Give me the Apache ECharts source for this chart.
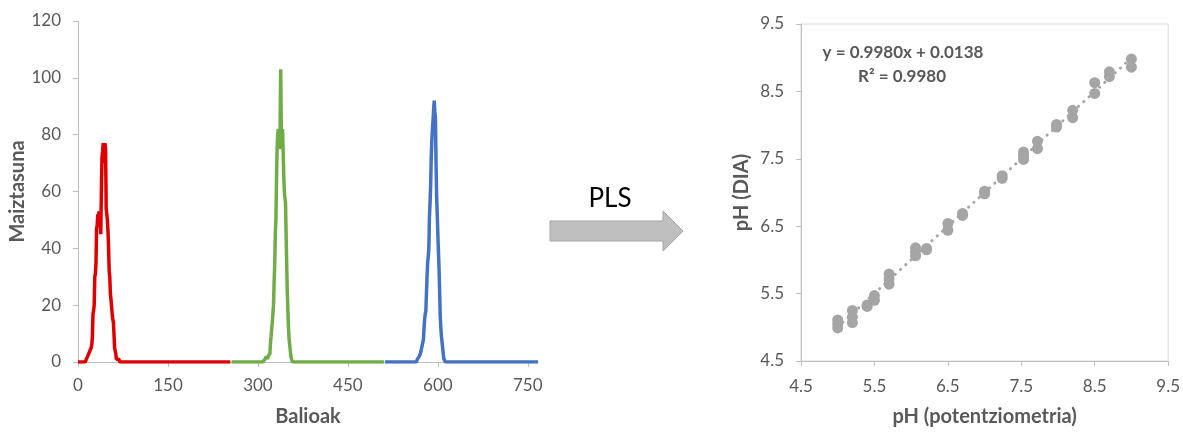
<!DOCTYPE html>
<html>
<head>
<meta charset="utf-8">
<script src="https://cdn.jsdelivr.net/npm/echarts@6/dist/echarts.min.js"></script>
<style>
  html, body { margin: 0; padding: 0; background: #fff; }
  #main { width: 1183px; height: 432px; }
</style>
</head>
<body>
<div id="main"></div>
<script>
// histogram: every channel is 256 bins, only the peak is non-zero
var binsPerChannel = 256;
var redStart = 14;
var redCounts = [1, 1, 2, 2, 3, 3, 4, 4, 5, 6, 9, 17, 18, 20, 30, 31, 35, 47, 48, 52, 51, 53, 49, 52, 45, 60,
  72, 74, 77, 76, 70, 77, 75, 54, 52, 50, 46, 40, 32, 30, 24, 22, 22, 17, 15, 14, 10, 5, 4, 3, 1, 1, 1, 1, 1, 1, 0];
var greenStart = 312;
var greenCounts = [1, 1, 2, 2, 1, 2, 2, 2, 3, 7, 9, 12, 14, 14, 20, 28, 34, 45, 50, 64, 75, 80, 82, 82, 75, 82,
  103, 82, 75, 82, 75, 66, 60, 58, 56, 45, 34, 24, 18, 12, 8, 6, 4, 2, 1, 1, 0];
var blueStart = 566;
var blueCounts = [1, 1, 1, 2, 2, 3, 3, 5, 6, 7, 8, 12, 15, 17, 18, 24, 30, 35, 37, 40, 51, 56, 62, 72, 78, 82,
  85, 89, 92, 88, 86, 70, 58, 52, 45, 39, 33, 25, 16, 12, 9, 7, 5, 3, 1, 1, 1, 0];
var histXTicks = [0, 150, 300, 450, 600, 750];

// pH: potentiometric vs DIA
var phPot = [5.0, 5.0, 5.0, 5.2, 5.2, 5.2, 5.4, 5.4, 5.5, 5.5, 5.7, 5.7, 5.7, 6.06, 6.06, 6.06, 6.21, 6.21,
  6.5, 6.5, 6.7, 6.7, 7.0, 7.0, 7.24, 7.24, 7.53, 7.53, 7.53, 7.72, 7.72, 7.98, 7.98, 8.2, 8.2, 8.5, 8.5,
  8.7, 8.7, 9.0, 9.0];
var phDia = [5.11, 5.05, 4.99, 5.25, 5.15, 5.07, 5.33, 5.31, 5.47, 5.40, 5.79, 5.72, 5.64, 6.18, 6.12, 6.06,
  6.17, 6.15, 6.54, 6.44, 6.69, 6.66, 7.02, 6.98, 7.25, 7.21, 7.60, 7.55, 7.49, 7.76, 7.65, 8.01, 7.97,
  8.22, 8.11, 8.63, 8.47, 8.79, 8.72, 8.98, 8.86];
var phTicks = [4.5, 5.5, 6.5, 7.5, 8.5, 9.5];
var fitSlope = 0.9980;
var fitIntercept = 0.0138;
var fitR2 = 0.9980;

function channel(offset, start, counts) {
  var out = [];
  for (var i = 0; i < binsPerChannel; i++) {
    var x = offset + i;
    var k = x - start;
    out.push([x, (k >= 0 && k < counts.length) ? counts[k] : 0]);
  }
  return out;
}

var fitX = [Math.min.apply(null, phPot), Math.max.apply(null, phPot)];
var fitLine = fitX.map(function (x) { return [x, fitSlope * x + fitIntercept]; });

var font = 'Lato, "Liberation Sans", sans-serif';
var grey = '#595959';
var axisGrey = '#BFBFBF';
var nameStyle = { color: grey, fontSize: 20, fontWeight: 'bold', fontFamily: font };

var myChart = echarts.init(document.getElementById('main'));
var option = {
  animation: false,
  textStyle: { fontFamily: font },
  grid: [
    { left: 78, top: 21, width: 460, height: 341 },
    { left: 801, top: 24, width: 370, height: 343, show: true, borderColor: '#D9D9D9', borderWidth: 1 }
  ],
  xAxis: [{
    gridIndex: 0, type: 'value', min: 0, max: 767,
    name: 'Balioak', nameLocation: 'middle', nameGap: 45, nameTextStyle: nameStyle,
    splitLine: { show: false },
    axisLine: { lineStyle: { color: axisGrey } },
    axisTick: { customValues: histXTicks, length: 5, lineStyle: { color: axisGrey } },
    axisLabel: { customValues: histXTicks, color: grey, fontSize: 17, margin: 15, fontFamily: font }
  }, {
    gridIndex: 1, type: 'value', min: 4.5, max: 9.5,
    name: 'pH (potentziometria)', nameLocation: 'middle', nameGap: 46, nameTextStyle: nameStyle,
    splitLine: { show: false },
    axisLine: { lineStyle: { color: axisGrey } },
    axisTick: { customValues: phTicks, length: 5, lineStyle: { color: axisGrey } },
    axisLabel: { customValues: phTicks, color: grey, fontSize: 17, margin: 17, fontFamily: font,
      formatter: function (v) { return v.toFixed(1); } }
  }],
  yAxis: [{
    gridIndex: 0, type: 'value', min: 0, max: 120, interval: 20,
    name: 'Maiztasuna', nameLocation: 'middle', nameGap: 50, nameTextStyle: nameStyle,
    splitLine: { show: false },
    axisLine: { show: true, lineStyle: { color: axisGrey } },
    axisTick: { show: true, length: 5, lineStyle: { color: axisGrey } },
    axisLabel: { color: grey, fontSize: 17, margin: 17, fontFamily: font }
  }, {
    gridIndex: 1, type: 'value', min: 4.5, max: 9.5,
    name: 'pH (DIA)', nameLocation: 'middle', nameGap: 49, nameTextStyle: nameStyle,
    splitLine: { show: false },
    axisLine: { show: true, lineStyle: { color: axisGrey } },
    axisTick: { show: true, customValues: phTicks, length: 5, lineStyle: { color: axisGrey } },
    axisLabel: { customValues: phTicks, color: grey, fontSize: 17, margin: 17, fontFamily: font,
      formatter: function (v) { return v.toFixed(1); } }
  }],
  series: [
    { name: 'R', type: 'line', xAxisIndex: 0, yAxisIndex: 0, data: channel(0, redStart, redCounts),
      showSymbol: false, lineStyle: { color: '#E00000', width: 3.5 } },
    { name: 'G', type: 'line', xAxisIndex: 0, yAxisIndex: 0, data: channel(256, greenStart, greenCounts),
      showSymbol: false, lineStyle: { color: '#70AD47', width: 3.5 } },
    { name: 'B', type: 'line', xAxisIndex: 0, yAxisIndex: 0, data: channel(512, blueStart, blueCounts),
      showSymbol: false, lineStyle: { color: '#4472C4', width: 3.5 } },
    { name: 'pH', type: 'scatter', xAxisIndex: 1, yAxisIndex: 1,
      data: phPot.map(function (x, i) { return [x, phDia[i]]; }),
      symbolSize: 11, itemStyle: { color: '#A5A5A5', opacity: 1 } },
    { name: 'fit', type: 'line', xAxisIndex: 1, yAxisIndex: 1, data: fitLine, showSymbol: false, z: 3,
      lineStyle: { color: '#A5A5A5', width: 3, type: [0.1, 7], cap: 'round' } }
  ],
  graphic: [
    { type: 'text', x: 903, y: 53, style: {
        text: 'y = ' + fitSlope.toFixed(4) + 'x + ' + fitIntercept.toFixed(4),
        font: 'bold 17px ' + font, fill: grey, align: 'center', verticalAlign: 'middle' } },
    { type: 'text', x: 902, y: 77, style: {
        text: 'R² = ' + fitR2.toFixed(4),
        font: 'bold 17px ' + font, fill: grey, align: 'center', verticalAlign: 'middle' } },
    { type: 'text', x: 610, y: 199, style: {
        text: 'PLS', font: '26px ' + font, fill: '#000', align: 'center', verticalAlign: 'middle' } },
    { type: 'polygon', shape: { points: [[550, 221], [663, 221], [663, 211], [683, 231], [663, 251], [663, 241], [550, 241]] },
      style: { fill: '#BFBFBF', stroke: '#A6A6A6', lineWidth: 1 } }
  ]
};
myChart.setOption(option);
</script>
</body>
</html>
